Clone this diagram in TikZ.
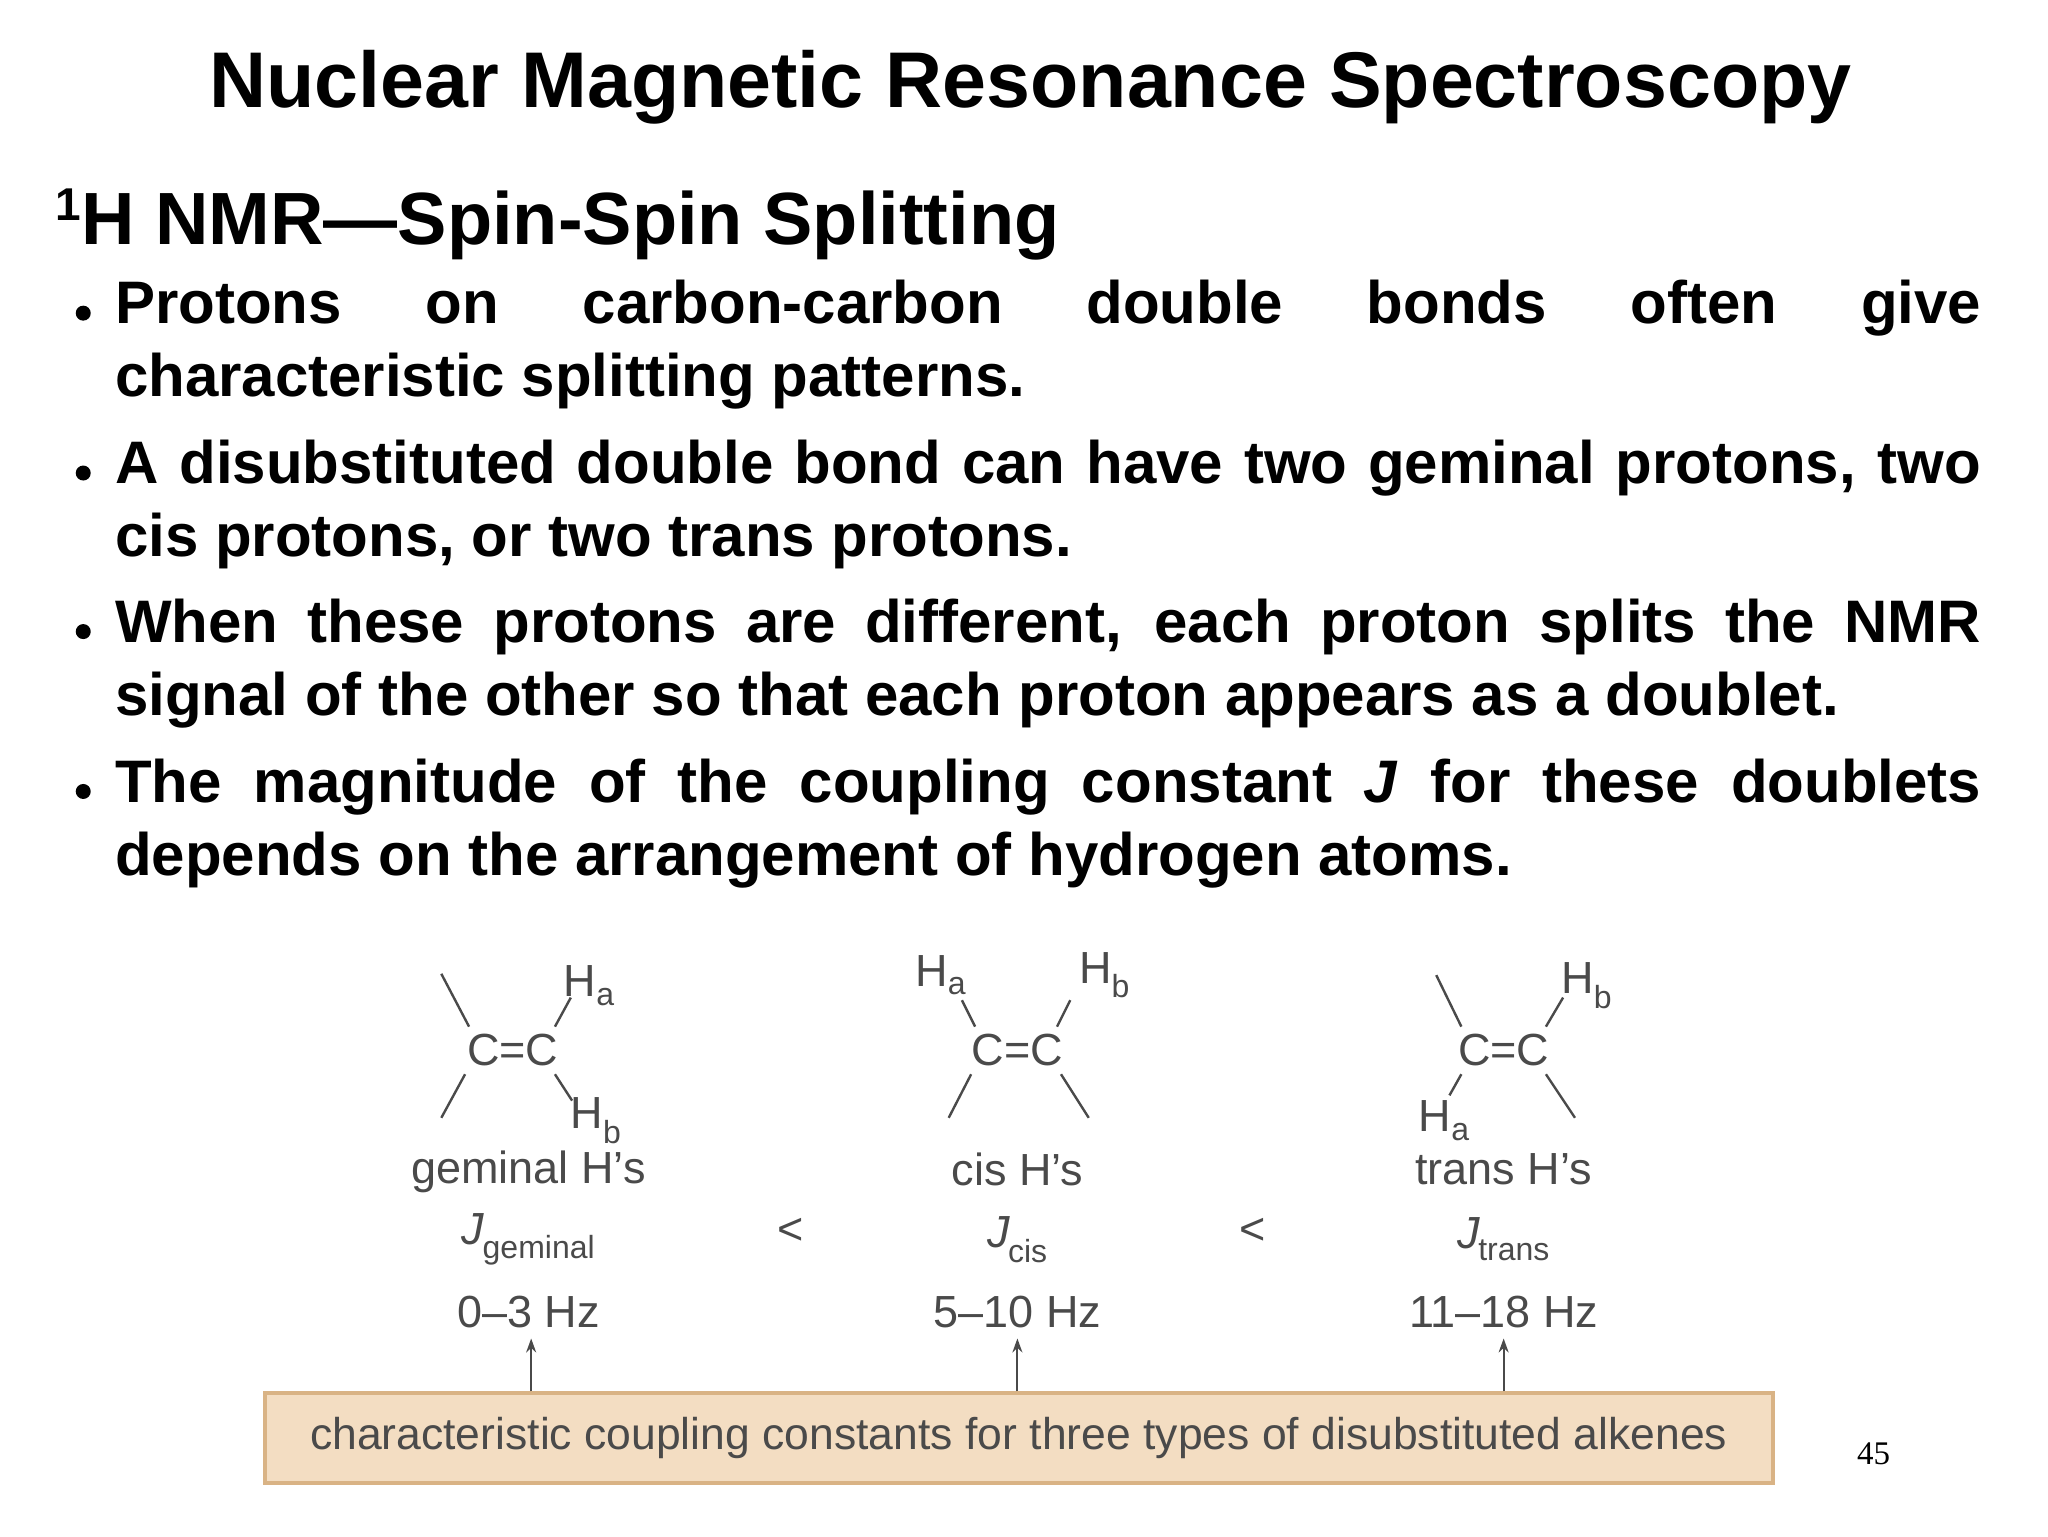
\documentclass[tikz,border=0pt]{standalone}
\usepackage{fontspec}
\usetikzlibrary{arrows.meta}
\setmainfont{Liberation Sans}
\newfontfamily\serifnum{Liberation Serif}
\definecolor{boxfill}{HTML}{F3DDC2}
\definecolor{boxline}{HTML}{D9B385}
\definecolor{chemgray}{HTML}{4A4A4A}
\begin{document}
\begin{tikzpicture}[x=1.3213pt,y=-1.3213pt,
  chem/.style={text=chemgray,font=\fontsize{45}{48}\selectfont,inner sep=0pt},
  bond/.style={chemgray,line width=2.4pt},
  bul/.style={anchor=north west,inner sep=0pt,text width=1866pt,align=justify,font=\bfseries\fontsize{60}{73}\selectfont,execute at begin node={\hyphenpenalty=10000\relax}},
  dot/.style={circle,fill=black,inner sep=0pt,minimum size=15pt},
  arr/.style={chemgray,line width=2pt,-{Stealth[length=14pt,width=10pt]}}]
\useasboundingbox (0,0) rectangle (1550,1162.5);
\node[font=\bfseries\fontsize{79}{86}\selectfont] (title) at (780,66) {Nuclear Magnetic Resonance Spectroscopy};
\node[anchor=west,font=\bfseries\fontsize{74}{80}\selectfont,inner sep=0pt] (sub) at (42,170) {\raisebox{0.32em}{\fontsize{46}{46}\selectfont 1}H NMR—Spin-Spin Splitting};
\foreach \y/\t [count=\i] in {212/{Protons on carbon-carbon double bonds often give\linebreak characteristic splitting patterns.},
  333/{A disubstituted double bond can have two geminal protons, two\linebreak cis protons, or two trans protons.},
  453/{When these protons are different, each proton splits the NMR\linebreak signal of the other so that each proton appears as a doublet.},
  574/{The magnitude of the coupling constant \textit{J} for these doublets\linebreak depends on the arrangement of hydrogen atoms.}}{
  \node[dot] (d\i) at (63,\y+25) {};
  \node[bul] (b\i) at (87,\y) {\t};
}
% geminal
\node[chem] (g) at (388,795) {C=C};
\node[chem] (gHa) at (446,746) {H\textsubscript{\fontsize{32}{32}\selectfont a}};
\node[chem] (gHb) at (451,848) {H\textsubscript{\fontsize{32}{32}\selectfont b}};
\draw[bond] (334,737) -- (355,777);
\draw[bond] (352,813) -- (334,846);
\draw[bond] (420,777) -- (432,755);
\draw[bond] (420,813) -- (433,833);
% cis
\node[chem] (c) at (770,795) {C=C};
\node[chem] (cHa) at (712,738) {H\textsubscript{\fontsize{32}{32}\selectfont a}};
\node[chem] (cHb) at (836,738) {H\textsubscript{\fontsize{32}{32}\selectfont b}};
\draw[bond] (728,757) -- (738,777);
\draw[bond] (810,757) -- (800,777);
\draw[bond] (735,813) -- (718,846);
\draw[bond] (803,813) -- (824,846);
% trans
\node[chem] (t) at (1138,795) {C=C};
\node[chem] (tHb) at (1201,746) {H\textsubscript{\fontsize{32}{32}\selectfont b}};
\node[chem] (tHa) at (1093,848) {H\textsubscript{\fontsize{32}{32}\selectfont a}};
\draw[bond] (1087,738) -- (1106,777);
\draw[bond] (1170,777) -- (1183,755);
\draw[bond] (1106,813) -- (1097,829);
\draw[bond] (1170,813) -- (1192,846);
% labels
\node[chem] (gl) at (400,887) {geminal H’s};
\node[chem] (cl) at (770,885) {cis H’s};
\node[chem] (tl) at (1138,885) {trans H’s};
\node[chem] (gj) at (400,938) {\textit{J}\kern-2pt\textsubscript{\fontsize{32}{32}\selectfont geminal}};
\node[chem] (lt1) at (598,932) {<};
\node[chem] (cj) at (770,938) {\textit{J}\kern-2pt\textsubscript{\fontsize{32}{32}\selectfont cis}};
\node[chem] (lt2) at (948,932) {<};
\node[chem] (tj) at (1138,938) {\textit{J}\kern-2pt\textsubscript{\fontsize{32}{32}\selectfont trans}};
\node[chem] (gh) at (400,993) {0–3 Hz};
\node[chem] (ch) at (770,993) {5–10 Hz};
\node[chem] (th) at (1138,993) {11–18 Hz};
% box
\node[draw=boxline,line width=4pt,fill=boxfill,minimum width=1508pt,minimum height=90pt,inner sep=0pt,text=chemgray,font=\fontsize{44.5}{46}\selectfont] (box) at (771,1088) {characteristic coupling constants for three types of disubstituted alkenes};
\foreach \x [count=\i] in {402,770,1138}{
  \coordinate (a\i) at (\x,1053);
  \coordinate (e\i) at (\x,1013);
  \draw[arr] (a\i) -- (e\i);
}
\node[font=\serifnum\fontsize{33}{35}\selectfont] (pg) at (1418,1100) {45};
\end{tikzpicture}
\end{document}
